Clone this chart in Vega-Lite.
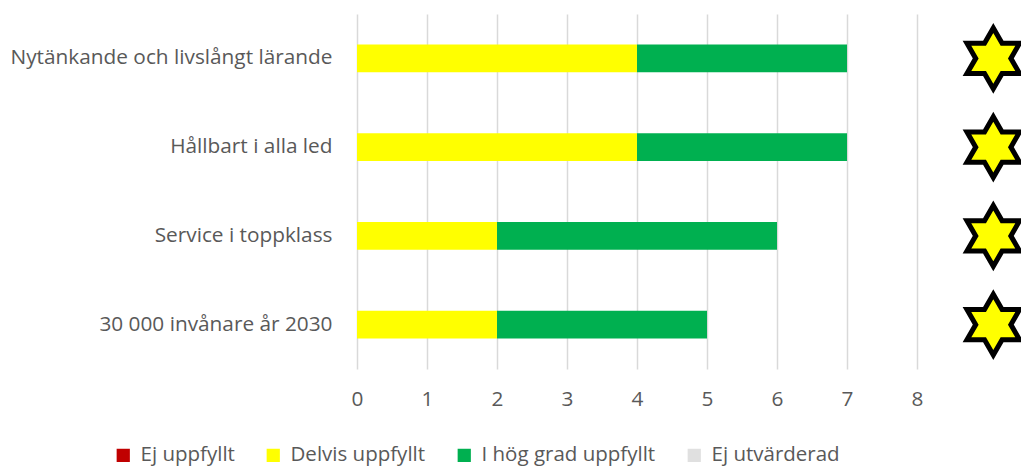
{
  "$schema": "https://vega.github.io/schema/vega-lite/v6.json",
  "width": 664,
  "height": 355,
  "autosize": {"type": "none"},
  "padding": {"left": 357, "top": 14, "right": 0, "bottom": 97},
  "config": {
    "view": {"stroke": null},
    "font": "Open Sans",
    "axis": {"labelFont": "Open Sans", "labelColor": "#595959"},
    "legend": {"labelFont": "Open Sans", "labelColor": "#595959"}
  },
  "datasets": {
    "bars": [
      {"mal": "Nytänkande och livslångt lärande", "status": "Delvis uppfyllt", "antal": 4},
      {"mal": "Nytänkande och livslångt lärande", "status": "I hög grad uppfyllt", "antal": 3},
      {"mal": "Hållbart i alla led", "status": "Delvis uppfyllt", "antal": 4},
      {"mal": "Hållbart i alla led", "status": "I hög grad uppfyllt", "antal": 3},
      {"mal": "Service i toppklass", "status": "Delvis uppfyllt", "antal": 2},
      {"mal": "Service i toppklass", "status": "I hög grad uppfyllt", "antal": 4},
      {"mal": "30 000 invånare år 2030", "status": "Delvis uppfyllt", "antal": 2},
      {"mal": "30 000 invånare år 2030", "status": "I hög grad uppfyllt", "antal": 3}
    ],
    "stars": [
      {"mal": "Nytänkande och livslångt lärande", "betyg": "stjärna"},
      {"mal": "Hållbart i alla led", "betyg": "stjärna"},
      {"mal": "Service i toppklass", "betyg": "stjärna"},
      {"mal": "30 000 invånare år 2030", "betyg": "stjärna"}
    ]
  },
  "layer": [
    {
      "data": {"name": "bars"},
      "mark": {"type": "bar"},
      "encoding": {
        "y": {
          "field": "mal", "type": "nominal",
          "sort": ["Nytänkande och livslångt lärande", "Hållbart i alla led", "Service i toppklass", "30 000 invånare år 2030"],
          "scale": {"paddingInner": 0.69, "paddingOuter": 0.345},
          "axis": {"title": null, "domain": false, "ticks": false, "labelPadding": 25, "labelFontSize": 20.8, "labelLimit": 500, "grid": false}
        },
        "x": {
          "field": "antal", "type": "quantitative", "stack": "zero",
          "scale": {"domain": [0, 9.4857], "nice": false, "zero": true},
          "axis": {"title": null, "values": [0, 1, 2, 3, 4, 5, 6, 7, 8], "domain": false, "ticks": false, "grid": true, "gridColor": "#d9d9d9", "gridWidth": 1.5, "labelFontSize": 20.8, "labelPadding": 20, "labelBaseline": "top", "labelFlush": false, "format": "d"}
        },
        "color": {
          "field": "status", "type": "nominal",
          "scale": {"domain": ["Ej uppfyllt", "Delvis uppfyllt", "I hög grad uppfyllt", "Ej utvärderad"], "range": ["#C00000", "#FFFF00", "#00B050", "#E0E0E0"]},
          "legend": {"title": null, "orient": "none", "direction": "horizontal", "legendX": -244, "legendY": 431, "symbolType": "square", "symbolSize": 175, "symbolStrokeWidth": 0, "labelFontSize": 20.5, "labelLimit": 500, "columnPadding": 28, "labelOffset": 7}
        }
      }
    },
    {
      "data": {"name": "stars"},
      "mark": {"type": "point", "shape": "M0,-1L0.2887,-0.5L0.866,-0.5L0.577,0L0.866,0.5L0.2887,0.5L0,1L-0.2887,0.5L-0.866,0.5L-0.577,0L-0.866,-0.5L-0.2887,-0.5Z", "filled": true, "fill": "#FFFF00", "stroke": "#000000", "strokeWidth": 5, "size": 3700, "opacity": 1, "clip": false},
      "encoding": {
        "y": {"field": "mal", "type": "nominal", "sort": ["Nytänkande och livslångt lärande", "Hållbart i alla led", "Service i toppklass", "30 000 invånare år 2030"]},
        "x": {"datum": 9.09, "type": "quantitative"}
      }
    }
  ]
}
